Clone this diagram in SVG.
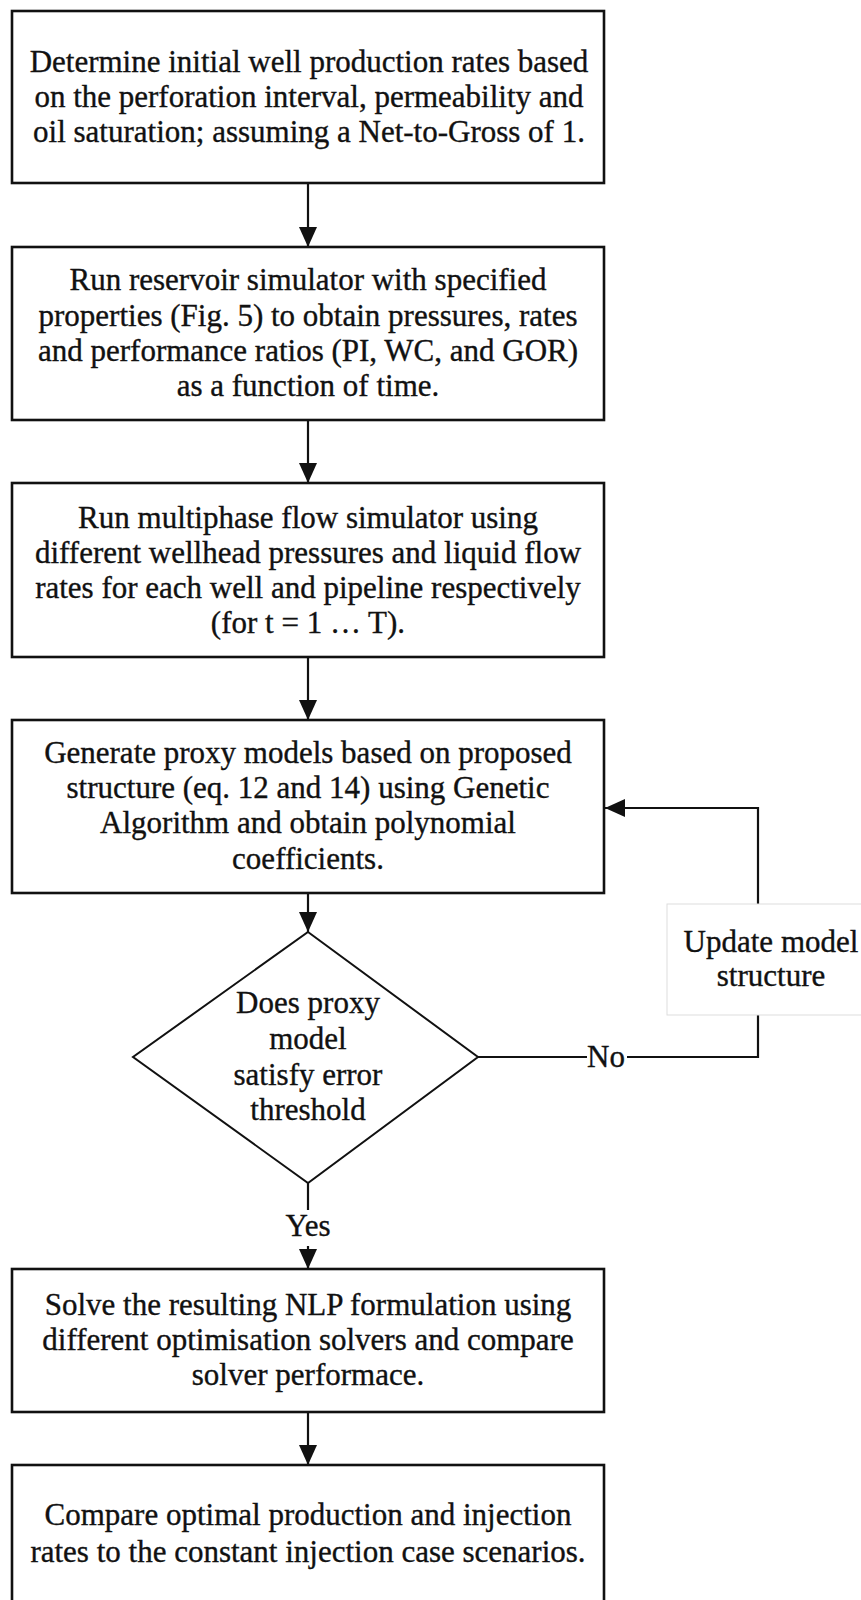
<svg xmlns="http://www.w3.org/2000/svg" width="861" height="1600" viewBox="0 0 861 1600">
<defs>
<marker id="arr" markerUnits="userSpaceOnUse" markerWidth="22" markerHeight="20" refX="20" refY="9" orient="auto">
<path d="M0,0 L20,9 L0,18 Z" fill="#111"/>
</marker>
</defs>
<style>
.box{fill:#fff;stroke:#111;stroke-width:2.6}
.dia{fill:#fff;stroke:#111;stroke-width:2}
.upd{fill:#fff;stroke:#ddd;stroke-width:1}
.t{font-family:"Liberation Serif","Times New Roman",serif;font-size:31px;fill:#111;stroke:#111;stroke-width:0.35;text-anchor:middle}
.c{fill:none;stroke:#111;stroke-width:2.2}
.lbl{fill:#fff;stroke:none}
</style>
<rect width="861" height="1600" fill="#fff"/>

<g id="connectors">
<line class="c" x1="308" y1="184" x2="308" y2="247" marker-end="url(#arr)"/>
<line class="c" x1="308" y1="421" x2="308" y2="483" marker-end="url(#arr)"/>
<line class="c" x1="308" y1="658" x2="308" y2="720" marker-end="url(#arr)"/>
<line class="c" x1="308" y1="894" x2="308" y2="932" marker-end="url(#arr)"/>
<line class="c" x1="308" y1="1183" x2="308" y2="1269" marker-end="url(#arr)"/>
<line class="c" x1="308" y1="1413" x2="308" y2="1465" marker-end="url(#arr)"/>
<path class="c" d="M478,1057 L758,1057 L758,1015"/>
<path class="c" d="M758,904 L758,808 L605,808" marker-end="url(#arr)"/>
<rect class="lbl" x="291" y="1210" width="34" height="36"/>
<text class="t" x="308" y="1236">Yes</text>
<rect class="lbl" x="587" y="1040" width="40" height="32"/>
<text class="t" x="606" y="1067">No</text>
</g>

<g id="n1">
<rect class="box" x="12" y="11" width="592" height="172"/>
<text class="t" x="309" y="72">Determine initial well production rates based</text>
<text class="t" x="309" y="107">on the perforation interval, permeability and</text>
<text class="t" x="309" y="142">oil saturation; assuming a Net-to-Gross of 1.</text>
</g>

<g id="n2">
<rect class="box" x="12" y="247" width="592" height="173"/>
<text class="t" x="308" y="290">Run reservoir simulator with specified</text>
<text class="t" x="308" y="326">properties (Fig. 5) to obtain pressures, rates</text>
<text class="t" x="308" y="361">and performance ratios (PI, WC, and GOR)</text>
<text class="t" x="308" y="396">as a function of time.</text>
</g>

<g id="n3">
<rect class="box" x="12" y="483" width="592" height="174"/>
<text class="t" x="308" y="528">Run multiphase flow simulator using</text>
<text class="t" x="308" y="563">different wellhead pressures and liquid flow</text>
<text class="t" x="308" y="598">rates for each well and pipeline respectively</text>
<text class="t" x="308" y="633">(for t = 1 … T).</text>
</g>

<g id="n4">
<rect class="box" x="12" y="720" width="592" height="173"/>
<text class="t" x="308" y="763">Generate proxy models based on proposed</text>
<text class="t" x="308" y="798">structure (eq. 12 and 14) using Genetic</text>
<text class="t" x="308" y="833">Algorithm and obtain polynomial</text>
<text class="t" x="308" y="869">coefficients.</text>
</g>

<g id="n5">
<polygon class="dia" points="308,932 478,1057 308,1183 133,1057"/>
<text class="t" x="308" y="1013">Does proxy</text>
<text class="t" x="308" y="1049">model</text>
<text class="t" x="308" y="1085">satisfy error</text>
<text class="t" x="308" y="1120">threshold</text>
</g>

<g id="n8">
<rect class="upd" x="667" y="904" width="200" height="111"/>
<text class="t" x="771" y="952">Update model</text>
<text class="t" x="771" y="986">structure</text>
</g>

<g id="n6">
<rect class="box" x="12" y="1269" width="592" height="143"/>
<text class="t" x="308" y="1315">Solve the resulting NLP formulation using</text>
<text class="t" x="308" y="1350">different optimisation solvers and compare</text>
<text class="t" x="308" y="1385">solver performace.</text>
</g>

<g id="n7">
<rect class="box" x="12" y="1465" width="592" height="150"/>
<text class="t" x="308" y="1525">Compare optimal production and injection</text>
<text class="t" x="308" y="1562">rates to the constant injection case scenarios.</text>
</g>
</svg>
